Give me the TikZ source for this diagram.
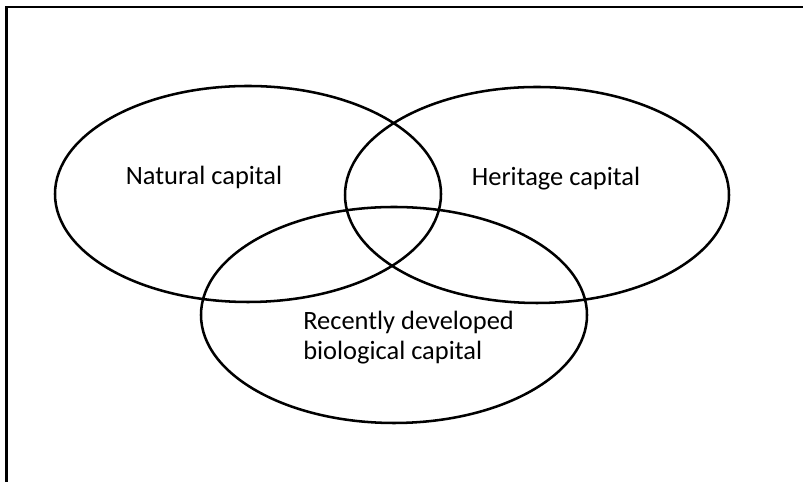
\documentclass[tikz,border=0pt]{standalone}
\usepackage{fontspec}
\setmainfont{Carlito}
\begin{document}
\begin{tikzpicture}[lbl/.style={font=\fontsize{18.8}{21.3}\selectfont, inner sep=0pt}, ring/.style={line width=1.8pt}]
	\useasboundingbox (0,0) rectangle (20.075,12.05);
	\begin{scope}
	\clip (0,0) rectangle (20.075,12.05);
	\draw[ring] (0.1625,-1) rectangle (21,11.875);
	\end{scope}
	\draw[ring] (6.2,7.2) ellipse (4.825 and 2.7);
	\draw[ring] (13.425,7.175) ellipse (4.8 and 2.7);
	\draw[ring] (9.85,4.175) ellipse (4.825 and 2.7);
	\node[lbl] (natural) at (5.1,7.625) {Natural capital};
	\node[lbl] (heritage) at (13.9,7.575) {Heritage capital};
	\node[lbl, align=left, anchor=west] (biological) at (7.575,3.6) {Recently developed\\biological capital};
\end{tikzpicture}
\end{document}
